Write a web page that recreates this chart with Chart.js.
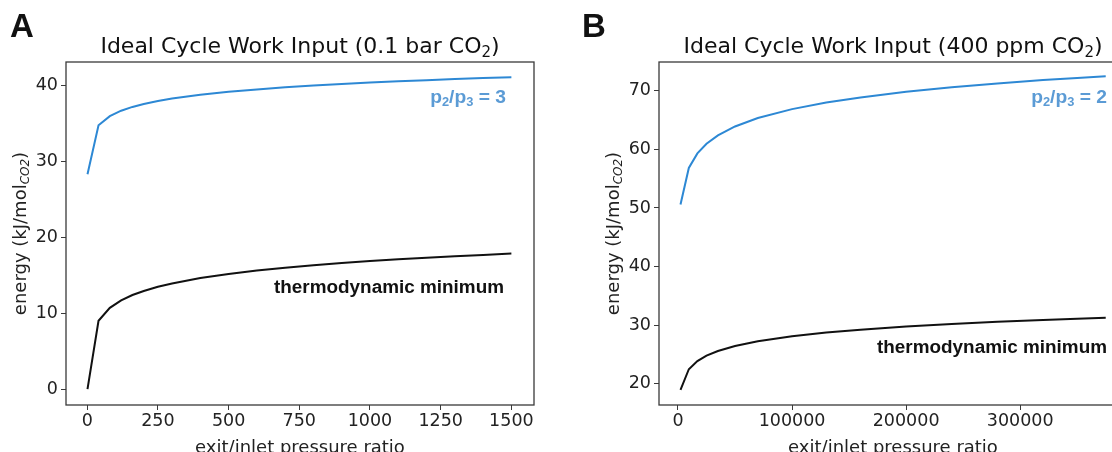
<!DOCTYPE html>
<html>
<head>
<meta charset="utf-8">
<script src="https://cdn.jsdelivr.net/npm/chart.js@4/dist/chart.umd.min.js"></script>
<style>
  html, body { margin: 0; padding: 0; background: #fff; overflow: hidden; }
  #wrap { position: relative; width: 1112px; height: 452px; overflow: hidden; }
  #boxA { position: absolute; left: 0; top: 0; width: 556px; height: 452px; }
  #boxB { position: absolute; left: 556px; top: 0; width: 600px; height: 452px; }
</style>
</head>
<body>
<div id="wrap">
  <div id="boxA"><canvas id="chartA" width="556" height="452"></canvas></div>
  <div id="boxB"><canvas id="chartB" width="600" height="452"></canvas></div>
</div>
<script>
// Panel A: 0.1 bar CO2
const ratioA = [1, 40, 80, 120, 160, 200, 250, 300, 400, 500, 600, 700, 800, 900, 1000, 1100, 1200, 1300, 1400, 1500];
const minimumA = [0, 9.0, 10.7, 11.69, 12.39, 12.93, 13.48, 13.92, 14.63, 15.17, 15.62, 15.99, 16.32, 16.61, 16.86, 17.1, 17.31, 17.5, 17.68, 17.85];
const cycleA = [28.3, 34.76, 35.97, 36.68, 37.18, 37.57, 37.96, 38.28, 38.78, 39.18, 39.49, 39.76, 40.0, 40.2, 40.39, 40.56, 40.71, 40.85, 40.98, 41.1];
const xTicksA = [0, 250, 500, 750, 1000, 1250, 1500];
const yTicksA = [0, 10, 20, 30, 40];

// Panel B: 400 ppm CO2
const ratioB = [2200, 9500, 17000, 25000, 35000, 50000, 70000, 100000, 130000, 160000, 200000, 240000, 280000, 320000, 350000, 375000];
const minimumB = [19.0, 22.5, 23.89, 24.81, 25.61, 26.47, 27.27, 28.12, 28.75, 29.25, 29.78, 30.21, 30.58, 30.9, 31.11, 31.28];
const cycleB = [50.6, 56.83, 59.31, 60.95, 62.39, 63.91, 65.34, 66.86, 67.98, 68.86, 69.81, 70.59, 71.24, 71.81, 72.19, 72.49];
const xTicksB = [0, 100000, 200000, 300000];
const yTicksB = [20, 30, 40, 50, 60, 70];

const BLUE_LINE = "#2d88d4";
const BLUE_TEXT = "#5b9bd5";
const AXIS = "#3a3a3a";

// draw a run of text pieces, some of them subscripts
function drawRich(ctx, parts, x, y, align) {
  let total = 0;
  parts.forEach(p => { ctx.font = p.font; total += ctx.measureText(p.t).width; });
  let cx = align === "right" ? x - total : align === "center" ? x - total / 2 : x;
  parts.forEach(p => {
    ctx.font = p.font;
    ctx.fillText(p.t, cx, y + (p.dy || 0));
    cx += ctx.measureText(p.t).width;
  });
}

const decoPlugin = {
  id: "deco",
  afterDraw(chart) {
    const o = chart.options.plugins.deco;
    const ctx = chart.ctx;
    const a = chart.chartArea;
    ctx.save();
    // frame
    ctx.strokeStyle = AXIS;
    ctx.lineWidth = 1.3;
    ctx.strokeRect(a.left, a.top, a.right - a.left, a.bottom - a.top);

    ctx.textBaseline = "alphabetic";
    ctx.textAlign = "left";
    ctx.fillStyle = "#111";
    // panel letter
    ctx.font = "bold 33px 'Liberation Sans'";
    ctx.fillText(o.letter, o.letterX, 37);

    // title
    const tf = "22px 'DejaVu Sans'";
    drawRich(ctx, [
      { t: o.title, font: tf },
      { t: "2", font: "15px 'DejaVu Sans'", dy: 4 },
      { t: ")", font: tf }
    ], (a.left + a.right) / 2, 53, "center");

    // x axis title
    ctx.fillStyle = "#222";
    drawRich(ctx, [{ t: "exit/inlet pressure ratio", font: "18px 'DejaVu Sans'" }], (a.left + a.right) / 2, 453, "center");

    // y axis title
    ctx.save();
    ctx.translate(o.yTitleX, (a.top + a.bottom) / 2);
    ctx.rotate(-Math.PI / 2);
    ctx.textBaseline = "middle";
    const yf = "18px 'DejaVu Sans'";
    drawRich(ctx, [
      { t: "energy (kJ/mol", font: yf },
      { t: "CO2", font: "italic 12px 'DejaVu Sans'", dy: 5 },
      { t: ")", font: yf }
    ], 0, 0, "center");
    ctx.restore();

    // annotations
    const af = "bold 18px 'Liberation Sans'";
    const sf = "bold 12px 'Liberation Sans'";
    ctx.save();
    ctx.fillStyle = BLUE_TEXT;
    ctx.translate(o.blueX, o.blueY);
    ctx.scale(1.07, 1);
    drawRich(ctx, [
      { t: "p", font: af }, { t: "2", font: sf, dy: 3 },
      { t: "/p", font: af }, { t: "3", font: sf, dy: 3 },
      { t: " = " + o.ratio, font: af }
    ], 0, 0, "right");
    ctx.restore();

    ctx.save();
    ctx.fillStyle = "#111";
    ctx.translate(o.blackX, o.blackY);
    ctx.scale(1.05, 1);
    drawRich(ctx, [{ t: "thermodynamic minimum", font: af }], 0, 0, "right");
    ctx.restore();

    ctx.restore();
  }
};

function makeChart(id, xs, ysMin, ysCycle, xTicks, yTicks, xr, yr, pad, yWidth, deco) {
  const ctx = document.getElementById(id).getContext("2d");
  return new Chart(ctx, {
    type: "line",
    data: {
      datasets: [
        {
          data: xs.map((x, i) => ({ x: x, y: ysCycle[i] })),
          borderColor: BLUE_LINE,
          borderWidth: 2,
          pointRadius: 0,
          tension: 0,
          fill: false
        },
        {
          data: xs.map((x, i) => ({ x: x, y: ysMin[i] })),
          borderColor: "#111",
          borderWidth: 2,
          pointRadius: 0,
          tension: 0,
          fill: false
        }
      ]
    },
    options: {
      responsive: false,
      animation: false,
      layout: { padding: pad },
      plugins: {
        legend: { display: false },
        tooltip: { enabled: false },
        deco: deco
      },
      scales: {
        x: {
          type: "linear",
          min: xr[0],
          max: xr[1],
          grid: { drawOnChartArea: false, drawTicks: true, tickLength: 5, color: AXIS, lineWidth: 1 },
          border: { display: false },
          ticks: {
            font: { family: "DejaVu Sans", size: 17.5 },
            color: "#222",
            padding: 1,
            maxRotation: 0,
            autoSkip: false,
            callback: v => String(v)
          },
          afterBuildTicks: s => { s.ticks = xTicks.map(v => ({ value: v })); },
          afterFit: s => { s.height = 47; }
        },
        y: {
          type: "linear",
          min: yr[0],
          max: yr[1],
          grid: { drawOnChartArea: false, drawTicks: true, tickLength: 5, color: AXIS, lineWidth: 1 },
          border: { display: false },
          ticks: {
            font: { family: "DejaVu Sans", size: 17.5 },
            color: "#222",
            padding: 3,
            callback: v => String(v)
          },
          afterBuildTicks: s => { s.ticks = yTicks.map(v => ({ value: v })); },
          afterFit: s => { s.width = yWidth; }
        }
      }
    },
    plugins: [decoPlugin]
  });
}

makeChart("chartA", ratioA, minimumA, cycleA, xTicksA, yTicksA,
  [-75, 1580], [-2.1, 43.1],
  { left: 0, top: 62, right: 22, bottom: 0 }, 66,
  { letter: "A", letterX: 10, title: "Ideal Cycle Work Input (0.1 bar CO", ratio: "3",
    yTitleX: 21, blueX: 506, blueY: 103, blackX: 504, blackY: 293 });

makeChart("chartB", ratioB, minimumB, cycleB, xTicksB, yTicksB,
  [-16650, 393650], [16.4, 74.9],
  { left: 0, top: 62, right: 29, bottom: 0 }, 103,
  { letter: "B", letterX: 26, title: "Ideal Cycle Work Input (400 ppm CO", ratio: "2",
    yTitleX: 58, blueX: 551, blueY: 103, blackX: 551, blackY: 353 });
</script>
</body>
</html>
